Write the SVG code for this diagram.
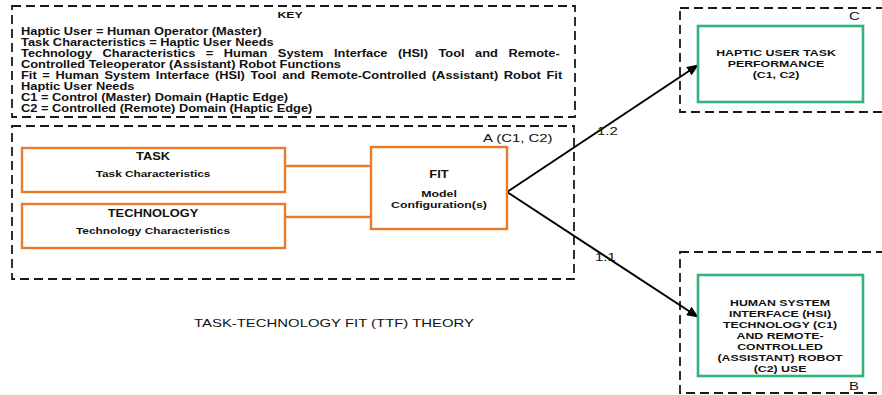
<svg xmlns="http://www.w3.org/2000/svg" width="882" height="395" viewBox="0 0 882 395">
  <style>
    .dash { fill: none; stroke: #1a1a1a; stroke-width: 1.8; stroke-dasharray: 9 5; }
    .orange { fill: #ffffff; stroke: #ec7a2c; stroke-width: 2.4; }
    .green { fill: #ffffff; stroke: #33b27a; stroke-width: 2.6; }
    .link { stroke: #ec7a2c; stroke-width: 2.4; fill: none; }
    .arrow { stroke: #000000; stroke-width: 2; fill: none; }
    text { font-family: "Liberation Sans", Arial, sans-serif; fill: #111111; }
    .b { font-weight: bold; }
    .key { font-size: 10px; font-weight: bold; }
    .lbl { font-size: 11.6px; }
    .hd { font-size: 10px; font-weight: bold; text-anchor: middle; }
    .sub { font-size: 9.2px; font-weight: bold; text-anchor: middle; }
    .out { font-size: 9.6px; font-weight: bold; text-anchor: middle; }
  </style>
  <defs>
    <marker id="arrowhead" markerWidth="12" markerHeight="10" refX="11" refY="5" orient="auto" markerUnits="userSpaceOnUse">
      <path d="M0,0 L12,5 L0,10 Z" fill="#000000"/>
    </marker>
  </defs>

  <rect width="882" height="395" fill="#ffffff"/>

  <!-- key panel -->
  <g id="key">
    <rect class="dash" x="12" y="6" width="563" height="111"/>
    <text class="b" font-size="9.5" text-anchor="middle" transform="matrix(1.285 0 0 1 290 17.5)">KEY</text>
    <text class="key" transform="matrix(1.285 0 0 1 21 34.5)">Haptic User = Human Operator (Master)</text>
    <text class="key" transform="matrix(1.285 0 0 1 21 45.5)">Task Characteristics = Haptic User Needs</text>
    <text class="key" word-spacing="5.4" transform="matrix(1.285 0 0 1 21 56.5)">Technology Characteristics = Human System Interface (HSI) Tool and Remote-</text>
    <text class="key" transform="matrix(1.285 0 0 1 21 67.5)">Controlled Teleoperator (Assistant) Robot Functions</text>
    <text class="key" word-spacing="1.6" transform="matrix(1.285 0 0 1 21 78.5)">Fit = Human System Interface (HSI) Tool and Remote-Controlled (Assistant) Robot Fit</text>
    <text class="key" transform="matrix(1.285 0 0 1 21 89.5)">Haptic User Needs</text>
    <text class="key" transform="matrix(1.285 0 0 1 21 100.5)">C1 = Control (Master) Domain (Haptic Edge)</text>
    <text class="key" transform="matrix(1.285 0 0 1 21 111.5)">C2 = Controlled (Remote) Domain (Haptic Edge)</text>
  </g>

  <!-- domain A container -->
  <g id="domain-a">
    <rect class="dash" x="12" y="126" width="562" height="153"/>
    <text class="lbl" transform="matrix(1.285 0 0 1 483 142.3)">A (C1, C2)</text>
  </g>

  <!-- domain C container -->
  <g id="domain-c">
    <rect class="dash" x="680" y="8" width="210" height="104"/>
    <text class="lbl" transform="matrix(1.285 0 0 1 849 19.5)">C</text>
  </g>

  <!-- domain B container -->
  <g id="domain-b">
    <rect class="dash" x="680" y="252" width="210" height="141"/>
    <text class="lbl" transform="matrix(1.285 0 0 1 849 389.5)">B</text>
  </g>

  <!-- connectors -->
  <g id="connectors">
    <line class="link" x1="285" y1="166" x2="371" y2="166"/>
    <line class="link" x1="285" y1="217" x2="371" y2="217"/>
    <line class="arrow" x1="507" y1="192" x2="698" y2="65" marker-end="url(#arrowhead)"/>
    <line class="arrow" x1="507" y1="192" x2="698" y2="317" marker-end="url(#arrowhead)"/>
    <text class="lbl" transform="matrix(1.285 0 0 1 597 134.5)">1.2</text>
    <text class="lbl" transform="matrix(1.285 0 0 1 595 260.5)">1.1</text>
  </g>

  <!-- task node -->
  <g id="task">
    <rect class="orange" x="22" y="148" width="263" height="44"/>
    <text class="hd" transform="matrix(1.285 0 0 1 153 159.5)">TASK</text>
    <text class="sub" transform="matrix(1.285 0 0 1 153 177.3)">Task Characteristics</text>
  </g>

  <!-- technology node -->
  <g id="technology">
    <rect class="orange" x="22" y="204" width="263" height="44"/>
    <text class="hd" transform="matrix(1.285 0 0 1 153 216.5)">TECHNOLOGY</text>
    <text class="sub" transform="matrix(1.285 0 0 1 153 234.3)">Technology Characteristics</text>
  </g>

  <!-- fit node -->
  <g id="fit">
    <rect class="orange" x="371" y="147" width="136" height="82"/>
    <text class="hd" transform="matrix(1.285 0 0 1 439 177.5)">FIT</text>
    <text class="out" transform="matrix(1.285 0 0 1 439 196.5)">Model</text>
    <text class="out" transform="matrix(1.285 0 0 1 439 207.5)">Configuration(s)</text>
  </g>

  <!-- haptic user task performance node -->
  <g id="performance">
    <rect class="green" x="698" y="26" width="165" height="76"/>
    <text class="out" font-size="9" transform="matrix(1.285 0 0 1 776 56.3)">HAPTIC USER TASK</text>
    <text class="out" font-size="9" transform="matrix(1.285 0 0 1 776 67.3)">PERFORMANCE</text>
    <text class="out" font-size="9" transform="matrix(1.285 0 0 1 776 78.3)">(C1, C2)</text>
  </g>

  <!-- hsi technology and robot use node -->
  <g id="hsi-use">
    <rect class="green" x="698" y="275" width="165" height="101"/>
    <text class="out" transform="matrix(1.285 0 0 1 780 305.5)">HUMAN SYSTEM</text>
    <text class="out" transform="matrix(1.285 0 0 1 780 316.5)">INTERFACE (HSI)</text>
    <text class="out" transform="matrix(1.285 0 0 1 780 327.5)">TECHNOLOGY (C1)</text>
    <text class="out" transform="matrix(1.285 0 0 1 780 338.5)">AND REMOTE-</text>
    <text class="out" transform="matrix(1.285 0 0 1 780 349.5)">CONTROLLED</text>
    <text class="out" transform="matrix(1.285 0 0 1 780 360.5)">(ASSISTANT) ROBOT</text>
    <text class="out" transform="matrix(1.285 0 0 1 780 371.5)">(C2) USE</text>
  </g>

  <!-- caption -->
  <text class="lbl" text-anchor="middle" transform="matrix(1.285 0 0 1 334 327.2)">TASK-TECHNOLOGY FIT (TTF) THEORY</text>
</svg>
